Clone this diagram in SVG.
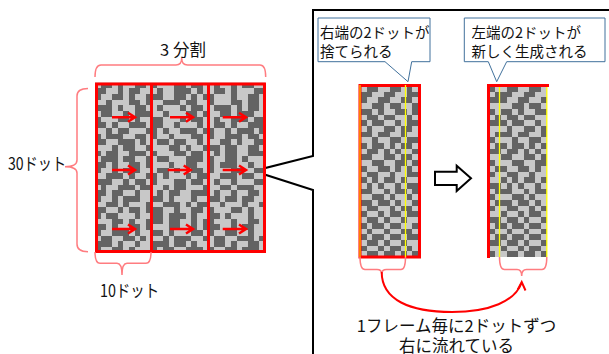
<svg xmlns="http://www.w3.org/2000/svg" width="609" height="354" viewBox="0 0 609 354">
<style>
.t{font-family:"Noto Sans CJK JP","Noto Sans",sans-serif;fill:#111}
.lt{fill:#C8C8C8}
.dk{shape-rendering:crispEdges}
.dk path{stroke:#636363;stroke-width:1;fill:none}
.frame{fill:none;stroke:#FF0000;stroke-width:3}
.brace{fill:none;stroke:#FF7C80;stroke-width:1.5}
.rarrow{fill:none;stroke:#FF0000;stroke-width:2.5}
.yl{stroke:#FFFF00;stroke-width:1.3}
.call{fill:#FFFFFF;stroke:#41719C;stroke-width:1}
</style>
<rect width="609" height="354" fill="#FFFFFF"/>

<g id="zoom-frame">
<path d="M313,358 V190 L253.5,171 L313,156 V10 H612" fill="none" stroke="#000" stroke-width="2"/>
</g>

<g id="grid">
<rect class="lt" x="95" y="82.5" width="170" height="170"/>
<g class="dk" transform="translate(95,82.5) scale(5.6667)">
<path d="M0 .5h30" stroke-dasharray="0 1 2 1 1 2 2 1 1 3 2 1 2 2 1 2 1 1 2 2"/>
<path d="M0 1.5h30" stroke-dasharray="2 2 1 1 2 3 1 2 3 1 1 2 2 1 1 3 2"/>
<path d="M0 2.5h30" stroke-dasharray="1 2 2 1 1 2 3 2 2 1 1 1 2 3 1 2 2 1"/>
<path d="M0 3.5h30" stroke-dasharray="0 2 1 3 2 1 1 2 3 1 2 2 1 3 2 1 2 1"/>
<path d="M0 4.5h30" stroke-dasharray="3 1 1 2 2 2 1 3 1 1 2 2 3 1 1 1 2 1"/>
<path d="M0 5.5h30" stroke-dasharray="0 1 2 2 1 1 3 2 1 3 2 1 1 2 2 1 3 2"/>
<path d="M0 6.5h30" stroke-dasharray="1 3 2 1 1 2 2 3 1 1 2 2 1 2 3 1 2"/>
<path d="M0 7.5h30" stroke-dasharray="2 1 1 2 3 1 2 2 1 3 1 2 2 1 1 2 3"/>
<path d="M0 8.5h30" stroke-dasharray="0 2 1 1 2 3 2 1 1 2 3 1 2 2 1 1 3 1 1"/>
<path d="M0 9.5h30" stroke-dasharray="1 1 3 2 2 1 1 2 1 3 2 1 1 2 3 1 2 1"/>
<path d="M0 10.5h30" stroke-dasharray="2 2 3 1 1 2 2 1 2 2 1 3 2 1 1 2 2"/>
<path d="M0 11.5h30" stroke-dasharray="0 3 1 1 2 2 1 3 2 1 1 2 3 1 2 2 2 1"/>
<path d="M0 12.5h30" stroke-dasharray="1 1 2 2 3 1 1 3 2 1 2 2 1 1 2 2 3"/>
<path d="M0 13.5h30" stroke-dasharray="0 1 3 1 2 2 1 1 2 3 3 1 1 2 2 1 1 3"/>
<path d="M0 14.5h30" stroke-dasharray="2 1 1 2 2 1 1 3 1 2 2 2 1 1 3 2 1 2"/>
<path d="M0 15.5h30" stroke-dasharray="1 2 1 1 3 3 2 1 1 2 2 1 1 3 2 2 2"/>
<path d="M0 16.5h30" stroke-dasharray="0 2 3 1 1 2 2 1 1 3 1 1 2 2 3 1 2 2"/>
<path d="M0 17.5h30" stroke-dasharray="3 2 1 1 2 1 1 3 2 1 2 2 1 2 1 3 2"/>
<path d="M0 18.5h30" stroke-dasharray="0 1 1 2 3 1 2 2 1 1 2 3 1 2 2 1 3 2"/>
<path d="M0 19.5h30" stroke-dasharray="2 1 2 2 1 3 1 1 2 2 3 1 1 2 1 2 2 1"/>
<path d="M0 20.5h30" stroke-dasharray="1 2 1 1 3 2 2 1 1 3 1 2 2 1 2 1 2 2"/>
<path d="M0 21.5h30" stroke-dasharray="0 2 2 1 1 3 1 2 3 1 1 1 2 2 1 3 1 2 1"/>
<path d="M0 22.5h30" stroke-dasharray="2 2 1 1 2 1 3 2 1 2 2 1 1 3 2 1 1 2"/>
<path d="M0 23.5h30" stroke-dasharray="1 1 2 3 1 2 2 1 3 1 1 2 2 1 1 3 1 2"/>
<path d="M0 24.5h30" stroke-dasharray="0 3 2 1 1 2 3 1 2 2 1 1 2 3 1 2 2 1"/>
<path d="M0 25.5h30" stroke-dasharray="2 1 1 2 2 1 1 3 2 2 1 1 3 2 1 1 2 2"/>
<path d="M0 26.5h30" stroke-dasharray="1 2 3 1 1 2 2 1 1 3 2 1 1 2 2 2 1 2"/>
<path d="M0 27.5h30" stroke-dasharray="0 1 2 2 2 1 1 3 1 1 3 2 1 1 2 2 3 1 1"/>
<path d="M0 28.5h30" stroke-dasharray="3 1 1 2 1 2 3 1 2 1 1 3 2 1 1 2 2 1"/>
<path d="M0 29.5h30" stroke-dasharray="1 2 2 1 1 3 1 1 2 2 3 1 1 2 2 1 3 1"/>
</g>
<rect class="frame" x="96.5" y="84" width="168" height="167.5"/>
<line class="frame" x1="151.5" y1="84" x2="151.5" y2="252"/>
<line class="frame" x1="208.5" y1="84" x2="208.5" y2="252"/>
</g>

<g id="strip-before">
<rect class="lt" x="361" y="86" width="57" height="171"/>
<g class="dk" transform="translate(361,86) scale(5.7)">
<path d="M0 .5h10" stroke-dasharray="0 1 2 2 2 1 1 1"/>
<path d="M0 1.5h10" stroke-dasharray="2 2 2 2 2"/>
<path d="M0 2.5h10" stroke-dasharray="1 2 2 2 2 1"/>
<path d="M0 3.5h10" stroke-dasharray="0 2 2 1 2 2 1"/>
<path d="M0 4.5h10" stroke-dasharray="2 1 1 2 2 1 1"/>
<path d="M0 5.5h10" stroke-dasharray="0 1 2 1 2 2 1 1"/>
<path d="M0 6.5h10" stroke-dasharray="1 1 2 2 1 1 2"/>
<path d="M0 7.5h10" stroke-dasharray="0 1 1 2 2 1 2 1"/>
<path d="M0 8.5h10" stroke-dasharray="2 1 2 2 1 2"/>
<path d="M0 9.5h10" stroke-dasharray="0 2 1 2 2 1 2"/>
<path d="M0 10.5h10" stroke-dasharray="1 1 2 1 1 1 2 1"/>
<path d="M0 11.5h10" stroke-dasharray="0 1 2 1 1 1 1 2 1"/>
<path d="M0 12.5h10" stroke-dasharray="2 2 2 1 2 1"/>
<path d="M0 13.5h10" stroke-dasharray="0 2 2 2 2 1 1"/>
<path d="M0 14.5h10" stroke-dasharray="1 2 2 1 1 1 1 1"/>
<path d="M0 15.5h10" stroke-dasharray="0 1 2 2 1 2 2"/>
<path d="M0 16.5h10" stroke-dasharray="1 1 1 1 2 1 1 2"/>
<path d="M0 17.5h10" stroke-dasharray="0 1 1 1 1 2 1 1 2"/>
<path d="M0 18.5h10" stroke-dasharray="2 2 1 1 2 1 1"/>
<path d="M0 19.5h10" stroke-dasharray="0 2 2 1 1 2 1 1"/>
<path d="M0 20.5h10" stroke-dasharray="2 1 2 1 1 2 1"/>
<path d="M0 21.5h10" stroke-dasharray="0 1 2 2 1 1 2 1"/>
<path d="M0 22.5h10" stroke-dasharray="1 2 1 1 2 1 2"/>
<path d="M0 23.5h10" stroke-dasharray="0 1 2 1 1 2 1 2"/>
<path d="M0 24.5h10" stroke-dasharray="1 1 2 1 2 2 1"/>
<path d="M0 25.5h10" stroke-dasharray="0 1 1 2 1 2 2 1"/>
<path d="M0 26.5h10" stroke-dasharray="1 1 2 1 2 1 2"/>
<path d="M0 27.5h10" stroke-dasharray="0 1 2 1 1 2 1 2"/>
<path d="M0 28.5h10" stroke-dasharray="1 2 1 1 2 1 1 1"/>
<path d="M0 29.5h10" stroke-dasharray="0 1 2 1 2 1 1 1 1"/>
</g>
<rect class="frame" x="360" y="85.5" width="59.5" height="171.5"/>
<line x1="360" y1="85" x2="360" y2="257" stroke="#FFC000" stroke-width="1.3"/>
<line class="yl" x1="405.5" y1="85" x2="405.5" y2="257"/>
</g>

<g id="strip-after">
<rect class="lt" x="489.5" y="86" width="57" height="171"/>
<g class="dk" transform="translate(489.5,86) scale(5.7)">
<path d="M0 .5h10" stroke-dasharray="1 2 2 2 2 1"/>
<path d="M0 1.5h10" stroke-dasharray="0 1 3 2 2 2"/>
<path d="M0 2.5h10" stroke-dasharray="3 2 2 2 1"/>
<path d="M0 3.5h10" stroke-dasharray="0 4 2 1 2 1"/>
<path d="M0 4.5h10" stroke-dasharray="1 1 2 1 1 2 2"/>
<path d="M0 5.5h10" stroke-dasharray="0 1 1 1 2 1 2 2"/>
<path d="M0 6.5h10" stroke-dasharray="3 1 2 2 1 1"/>
<path d="M0 7.5h10" stroke-dasharray="0 3 1 2 2 1 1"/>
<path d="M0 8.5h10" stroke-dasharray="0 1 3 1 2 2 1"/>
<path d="M0 9.5h10" stroke-dasharray="1 3 1 2 2 1"/>
<path d="M0 10.5h10" stroke-dasharray="0 1 2 1 2 1 1 1 1"/>
<path d="M0 11.5h10" stroke-dasharray="2 1 2 1 1 1 1 1"/>
<path d="M0 12.5h10" stroke-dasharray="0 2 2 2 2 1 1"/>
<path d="M0 13.5h10" stroke-dasharray="1 3 2 2 2"/>
<path d="M0 14.5h10" stroke-dasharray="0 1 2 2 2 1 1 1"/>
<path d="M0 15.5h10" stroke-dasharray="1 2 2 2 1 2"/>
<path d="M0 16.5h10" stroke-dasharray="0 2 1 1 1 1 2 1 1"/>
<path d="M0 17.5h10" stroke-dasharray="2 1 1 1 1 2 1 1"/>
<path d="M0 18.5h10" stroke-dasharray="0 1 3 2 1 1 2"/>
<path d="M0 19.5h10" stroke-dasharray="1 3 2 1 1 2"/>
<path d="M0 20.5h10" stroke-dasharray="0 1 3 1 2 1 1 1"/>
<path d="M0 21.5h10" stroke-dasharray="1 2 2 2 1 1 1"/>
<path d="M0 22.5h10" stroke-dasharray="0 2 1 2 1 1 2 1"/>
<path d="M0 23.5h10" stroke-dasharray="2 1 2 1 1 2 1"/>
<path d="M0 24.5h10" stroke-dasharray="0 1 2 1 2 1 2 1"/>
<path d="M0 25.5h10" stroke-dasharray="1 2 1 2 1 2 1"/>
<path d="M0 26.5h10" stroke-dasharray="0 1 2 1 2 1 2 1"/>
<path d="M0 27.5h10" stroke-dasharray="2 1 2 1 1 2 1"/>
<path d="M0 28.5h10" stroke-dasharray="0 2 1 2 1 1 2 1"/>
<path d="M0 29.5h10" stroke-dasharray="1 2 2 1 2 1 1"/>
</g>
<path class="frame" d="M488.5,258 V85.5 H549"/>
<line class="yl" x1="499.5" y1="87" x2="499.5" y2="257"/>
<line class="yl" x1="546.8" y1="87" x2="546.8" y2="257"/>
</g>

<g id="callout-discard">
<path class="call" d="M318,18 H430 V61.7 H411.7 L408,81.7 L385,61.7 H318 Z"/>
<text class="t" x="320" y="38" font-size="14.5">右端の2ドットが</text>
<text class="t" x="320" y="56.5" font-size="14.5">捨てられる</text>
</g>

<g id="callout-generate">
<path class="call" d="M464.3,18 H605 V61.7 H506.7 L496.7,81.7 L488.3,61.7 H464.3 Z"/>
<text class="t" x="471.5" y="38" font-size="14.5">左端の2ドットが</text>
<text class="t" x="471.5" y="56.5" font-size="14.5">新しく生成される</text>
</g>

<g id="labels">
<text class="t" x="183" y="56" font-size="16.5" text-anchor="middle">3 分割</text>
<text class="t" x="8" y="169.5" font-size="17" textLength="58" lengthAdjust="spacingAndGlyphs">30ドット</text>
<text class="t" x="100" y="296.5" font-size="17" textLength="59" lengthAdjust="spacingAndGlyphs">10ドット</text>
<text class="t" x="456.5" y="331.5" font-size="16.5" text-anchor="middle">1フレーム毎に2ドットずつ</text>
<text class="t" x="456.5" y="351.5" font-size="16.5" text-anchor="middle">右に流れている</text>
</g>

<g id="connectors">
<path class="brace" d="M95,77 Q95,65 101,65 H176 Q181.7,65 181.7,58 Q181.7,65 187.5,65 H260 Q265.7,65 265.7,77"/>
<path class="brace" d="M88,88.5 Q77,88.5 77,96 V160 Q77,166.7 65,166.7 Q77,166.7 77,173 V244 Q77,251.7 88,251.7"/>
<path class="brace" d="M95,252 Q95,263.3 100,263.3 H117 Q122,263.3 122,275 Q122,263.3 127,263.3 H146 Q151,263.3 151,252"/>
<path class="brace" d="M360,257 Q360,269.5 365,269.5 H377 Q381.7,269.5 381.7,274 Q381.7,269.5 386.5,269.5 H401 Q405.5,269.5 405.5,257"/>
<path class="brace" d="M499.5,257 Q499.5,269.5 504.5,269.5 H517 Q521.7,269.5 521.7,276 Q521.7,269.5 526.5,269.5 H542 Q546.8,269.5 546.8,257"/>
<path fill="none" stroke="#FF0000" stroke-width="2" d="M381.7,272 C381.7,300 410,312 452,312 C490,312 515,301 521.5,283"/>
<path fill="none" stroke="#FF0000" stroke-width="2" d="M517.8,289.5 L521.7,282 L525.5,290.5"/>
<path d="M435,171.7 H456.7 V165.7 L471,178.3 L456.7,191 V185 H435 Z" fill="#FFF" stroke="#000" stroke-width="2"/>
<path class="rarrow" d="M112,117.3 H134 M128,112.8 L135,117.3 L128,121.8"/>
<path class="rarrow" d="M112,170 H134 M128,165.5 L135,170 L128,174.5"/>
<path class="rarrow" d="M112,229 H134 M128,224.5 L135,229 L128,233.5"/>
<path class="rarrow" d="M170,117.3 H192 M186,112.8 L193,117.3 L186,121.8"/>
<path class="rarrow" d="M167.7,170 H189.7 M183.7,165.5 L190.7,170 L183.7,174.5"/>
<path class="rarrow" d="M170,229 H192 M186,224.5 L193,229 L186,233.5"/>
<path class="rarrow" d="M222.7,117.3 H245 M239,112.8 L246,117.3 L239,121.8"/>
<path class="rarrow" d="M222.7,170 H245 M239,165.5 L246,170 L239,174.5"/>
<path class="rarrow" d="M222.7,229 H245 M239,224.5 L246,229 L239,233.5"/>
</g>
</svg>
